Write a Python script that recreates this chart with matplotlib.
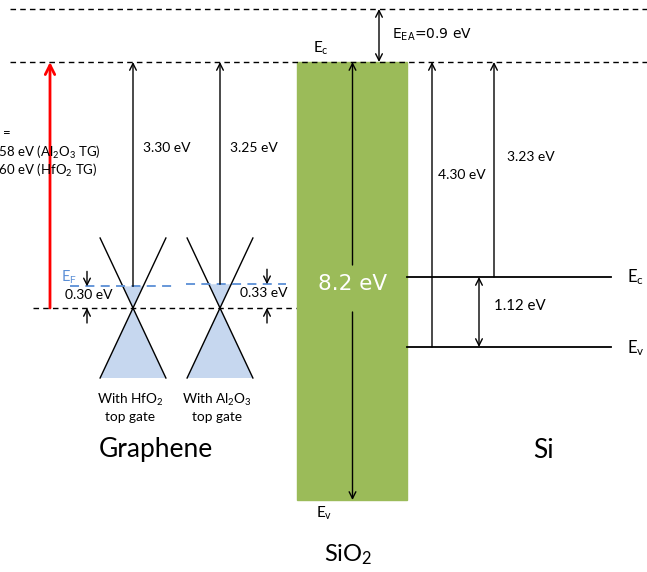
import matplotlib
matplotlib.use("Agg")
import matplotlib.pyplot as plt
from matplotlib.patches import Rectangle, Polygon

plt.rcParams['font.family'] = ['Lato', 'DejaVu Sans']
plt.rcParams['mathtext.default'] = 'regular'

# energies (eV)
gr_barrier = [3.30, 3.25]          # graphene E_F -> SiO2 E_c
gr_ef_shift = [0.30, 0.33]         # E_F above Dirac point
gr_names = ['With HfO$_2$\ntop gate', 'With Al$_2$O$_3$\ntop gate']
gr_tags = ['HfO$_2$ TG', 'Al$_2$O$_3$ TG']
si_barrier = [4.30, 3.23]          # Si E_v / E_c -> SiO2 E_c
si_gap = 1.12
sio2_gap = 8.2
sio2_ea = 0.9

# layout (pixels)
W, H = 647, 572
y_vac, y_ec = 9, 62
y_dirac = 308
ef_scale = 72.0        # px per eV for the small E_F offsets
si_scale = 62.5        # px per eV for the Si gap
ox_x0, ox_x1, ox_y1 = 297, 407, 500
cone_x = [133, 220]
cone_h, cone_k = 70, 0.47
si_ec = 277
dash = (4, 3)
blue_fill = '#C6D7EF'
blue_line = '#5B8FD6'
green = '#9BBB59'
fs_small = 10

fig = plt.figure(figsize=(W / 100, H / 100), dpi=100)
ax = fig.add_axes([0, 0, 1, 1])
ax.set_xlim(0, W)
ax.set_ylim(H, 0)
ax.axis('off')


def arrow(x, y0, y1, color='black', lw=1.0, both=False, ms=12):
    ax.annotate('', xy=(x, y1), xytext=(x, y0),
                arrowprops=dict(arrowstyle='<->' if both else '->', color=color, lw=lw,
                                mutation_scale=ms, shrinkA=0, shrinkB=0))


# vacuum / SiO2 conduction band reference lines
ax.plot([10, 650], [y_vac, y_vac], color='black', lw=1.0, dashes=dash)
ax.plot([10, 650], [y_ec, y_ec], color='black', lw=1.0, dashes=dash)

# SiO2 block
ax.add_patch(Rectangle((ox_x0, y_ec), ox_x1 - ox_x0, ox_y1 - y_ec, color=green, zorder=1))
xm = (ox_x0 + ox_x1) / 2 + 0.5
ax.text(xm, 284, f'{sio2_gap:.1f} eV', color='white', fontsize=15.5, ha='center', va='center',
        family='DejaVu Sans')
arrow(xm, 265, y_ec)
arrow(xm, 312, ox_y1)
ax.text(313, 48, 'E$_c$', fontsize=11, ha='left', va='center')
ax.text(316, 513, 'E$_v$', fontsize=11, ha='left', va='center')
ax.text(348, 555, 'SiO$_2$', fontsize=17, ha='center', va='center')

# electron affinity
arrow(379, y_ec, y_vac, both=True)
ax.text(392, 35, f'E$_{{EA}}$={sio2_ea} eV', fontsize=10, ha='left', va='center',
        family='DejaVu Sans')

# Si bands
si_ev = si_ec + si_gap * si_scale
ax.plot([ox_x1, 611], [si_ec, si_ec], color='black', lw=1.3)
ax.plot([ox_x1, 611], [si_ev, si_ev], color='black', lw=1.3)
ax.text(627, si_ec, 'E$_c$', fontsize=12, ha='left', va='center')
ax.text(627, si_ev + 1, 'E$_v$', fontsize=12, ha='left', va='center')
arrow(479, si_ec, si_ev, both=True)
ax.text(494, 306, f'{si_gap:.2f} eV', fontsize=10.8, ha='left', va='center')
arrow(432, si_ev, y_ec)
ax.text(438, 175, f'{si_barrier[0]:.2f} eV', fontsize=fs_small, ha='left', va='center')
arrow(494, si_ec, y_ec)
ax.text(507, 157, f'{si_barrier[1]:.2f} eV', fontsize=fs_small, ha='left', va='center')
ax.text(543, 450, 'Si', fontsize=19, ha='center', va='center')

# graphene: Dirac level and cones
ax.plot([33, 296], [y_dirac, y_dirac], color='black', lw=1.0, dashes=dash)
ef_ys = []
for cx, shift in zip(cone_x, gr_ef_shift):
    w = cone_h * cone_k
    yef = y_dirac - shift * ef_scale
    ef_ys.append(yef)
    we = (y_dirac - yef) * cone_k
    ax.add_patch(Polygon([(cx, y_dirac), (cx - w, y_dirac + cone_h), (cx + w, y_dirac + cone_h)],
                         color=blue_fill, lw=0, zorder=1))
    ax.add_patch(Polygon([(cx, y_dirac), (cx - we, yef), (cx + we, yef)],
                         color=blue_fill, lw=0, zorder=1))
    ax.plot([cx - w, cx + w], [y_dirac - cone_h, y_dirac + cone_h], color='black', lw=1.0)
    ax.plot([cx + w, cx - w], [y_dirac - cone_h, y_dirac + cone_h], color='black', lw=1.0)

# Fermi levels
ax.plot([70, 172], [ef_ys[0], ef_ys[0]], color=blue_line, lw=1.3, dashes=(5, 3.5))
ax.plot([186, 286], [ef_ys[1], ef_ys[1]], color=blue_line, lw=1.3, dashes=(5, 3.5))
ax.text(61, 277, 'E$_F$', color=blue_line, fontsize=10.5, ha='left', va='center')

# E_F offset markers
for xa, yef, shift, xt in zip([87, 267], ef_ys, gr_ef_shift, [89, 264]):
    arrow(xa, yef - 15, yef)
    arrow(xa, y_dirac + 15, y_dirac)
    ax.text(xt, yef + 9, f'{shift:.2f} eV', fontsize=fs_small, ha='center', va='center')

# barriers from E_F to SiO2 conduction band
for cx, yef, b, xt in zip(cone_x, ef_ys, gr_barrier, [143, 230]):
    arrow(cx, yef, y_ec)
    ax.text(xt, 148, f'{b:.2f} eV', fontsize=fs_small, ha='left', va='center')

for cx, name in zip(cone_x, gr_names):
    ax.text(cx - 3, 407, name, fontsize=9.8, ha='center', va='center', linespacing=1.3)
ax.text(156, 450, 'Graphene', fontsize=19, ha='center', va='center')

# barrier from Dirac point (red), label runs past the left edge
arrow(50, y_dirac, y_ec, color='red', lw=2.0, ms=17)
dirac_b = [b + s for b, s in zip(gr_barrier, gr_ef_shift)]
x_txt = -12
fs_left = 9.5
ax.text(x_txt - 6, 133, '$\\Phi_{B}$ =', fontsize=fs_left, ha='left', va='center')
ax.text(x_txt, 152, f'{dirac_b[1]:.2f} eV ({gr_tags[1]})', fontsize=fs_left, ha='left', va='center')
ax.text(x_txt, 170, f'{dirac_b[0]:.2f} eV ({gr_tags[0]})', fontsize=fs_left, ha='left', va='center')

fig.savefig('out.png', dpi=100)
